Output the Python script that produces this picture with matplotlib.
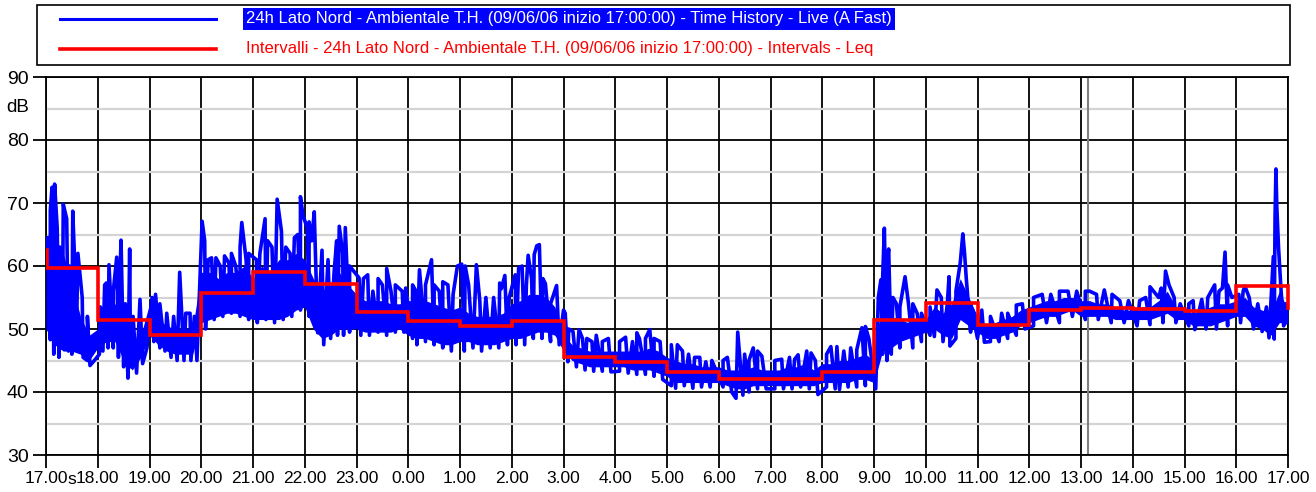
import numpy as np
import matplotlib.pyplot as plt
from matplotlib.patches import Rectangle
from matplotlib.lines import Line2D

plt.rcParams['font.family'] = ['Liberation Sans', 'DejaVu Sans']

# --- data -------------------------------------------------------------
hour_labels = ['17.00', '18.00', '19.00', '20.00', '21.00', '22.00', '23.00',
               '0.00', '1.00', '2.00', '3.00', '4.00', '5.00', '6.00', '7.00',
               '8.00', '9.00', '10.00', '11.00', '12.00', '13.00', '14.00',
               '15.00', '16.00', '17.00']

# hourly Leq (red steps), 17.00 -> 17.00
leq_hourly = [59.7, 51.5, 49.1, 55.7, 59.1, 57.1, 52.7, 51.3, 50.5, 51.2,
              45.5, 44.7, 43.2, 42.1, 42.0, 43.1, 51.4, 54.1, 50.6, 53.0,
              53.3, 53.2, 52.8, 56.9]
leq_first = 62.5   # partial value at start
leq_last = 53.3    # partial value at end

# dense core of the time history, every 10 minutes (lower / upper edge)
band_lo = [50, 47.5, 46.5, 46.5, 46, 45,
           47, 48, 48, 45, 43.5, 45.5,
           49, 47.5, 46.5, 46, 46, 46,
           51, 51.5, 52, 52.5, 52.5, 52,
           51.5, 51.5, 51.5, 51.5, 52, 53,
           53.5, 50, 48.5, 49, 50, 50,
           50, 49.5, 49.5, 49.5, 49.5, 50,
           49, 48.5, 48.5, 48, 47.5, 47.5,
           48, 48, 47.5, 47.5, 47.5, 48,
           48.5, 48.5, 49, 49.5, 49.5, 49,
           46.5, 45, 44.5, 44, 44, 44,
           44, 44, 43.5, 43.5, 43.5, 43,
           42.5, 41.5, 41.5, 41.5, 41.5, 41.5,
           41.5, 41, 40.5, 40.5, 41, 41,
           41, 41, 41, 41, 41, 41,
           41.5, 41.5, 41.5, 41.5, 42, 42,
           41.5, 46.5, 47, 48, 48.5, 49,
           49.5, 50, 49, 48.5, 51.5, 50.5,
           49.5, 48.5, 48.5, 49, 49.5, 50.5,
           51, 51.5, 52, 52, 52.5, 53,
           52, 52, 52, 52, 51.5, 51.5,
           51.5, 51.5, 51.5, 52, 52.5, 51.5,
           51.5, 50.5, 50.5, 50.5, 51, 51.5,
           52, 52, 50.5, 50, 49, 51,
           51]
band_hi = [62, 64, 62, 57, 52, 49,
           50, 54, 54, 51, 48, 49,
           54, 51.5, 50.5, 50, 50, 50,
           59, 59, 58, 59, 59, 60,
           58, 60, 59, 61, 61, 62,
           61, 58, 56, 57, 59, 57,
           55.5, 54.5, 54.5, 54.5, 54, 54,
           54.5, 54.5, 54.5, 54, 53.5, 53,
           53.5, 52.5, 52, 52, 52, 52.5,
           54, 54.5, 55.5, 55.5, 55, 53.5,
           49, 47.5, 47, 46.5, 46.5, 46.5,
           46.5, 46.5, 46.5, 46.5, 47, 46.5,
           45.5, 45, 44.5, 44.5, 44, 44,
           44, 43.5, 43.5, 43.5, 44, 43.5,
           43.5, 43.5, 44, 44, 44.5, 43.5,
           44.5, 44.5, 45, 45, 45.5, 46,
           45, 56, 52, 51.5, 51, 51.5,
           51.5, 53.5, 52.5, 54, 58, 55,
           52, 50.5, 51, 51.5, 52, 53,
           53.5, 54, 54.5, 54.5, 55, 55,
           54.5, 54.5, 54, 54, 53.5, 53,
           53, 53.5, 53.5, 54.5, 56, 53.5,
           53, 52.5, 53, 53.5, 54, 54,
           54.5, 55, 53.5, 53, 52.5, 56,
           53]

# peaks of the time history (clock time, dB)
peak_times = ['17:02', '17:05', '17:07', '17:10', '17:13', '17:16', '17:20', '17:24',
              '17:27', '17:31', '17:34', '17:37', '17:42', '17:48',
              '18:03', '18:08', '18:10', '18:13', '18:18', '18:22', '18:25', '18:27',
              '18:32', '18:37', '18:41', '18:49',
              '19:03', '19:07', '19:12', '19:20', '19:28', '19:35', '19:42', '19:47', '19:52',
              '20:01', '20:04', '20:08', '20:12', '20:17', '20:22', '20:27', '20:32',
              '20:35', '20:40', '20:45', '20:47', '20:52', '20:55',
              '21:04', '21:08', '21:14', '21:17', '21:22', '21:28', '21:33', '21:38',
              '21:43', '21:48', '21:52', '21:55', '21:58',
              '22:03', '22:05', '22:08', '22:11', '22:20', '22:27', '22:34', '22:37',
              '22:40', '22:44', '22:47', '22:52',
              '23:03', '23:08', '23:13', '23:19', '23:25', '23:30', '23:35', '23:40',
              '23:45', '23:53', '23:57',
              '0:05', '0:09', '0:13', '0:20', '0:27', '0:30', '0:36', '0:40', '0:46',
              '0:52', '0:57',
              '1:02', '1:06', '1:10', '1:19', '1:23', '1:30', '1:39', '1:46', '1:48',
              '1:52', '1:57',
              '2:04', '2:08', '2:12', '2:17', '2:19', '2:23', '2:26', '2:29', '2:32',
              '2:36', '2:39', '2:45', '2:52',
              '3:00', '3:02', '3:06', '3:11', '3:18', '3:22', '3:27', '3:33', '3:38',
              '3:45', '3:52',
              '4:05', '4:12', '4:20', '4:25', '4:28', '4:35', '4:40', '4:45', '4:52',
              '5:05', '5:12', '5:18', '5:25', '5:32', '5:38', '5:45', '5:52',
              '6:05', '6:10', '6:22', '6:30', '6:35', '6:40', '6:45', '6:50',
              '7:05', '7:13', '7:22', '7:28', '7:32', '7:42', '7:47', '7:52',
              '8:05', '8:10', '8:17', '8:25', '8:33', '8:40', '8:46', '8:50', '8:54',
              '9:05', '9:08', '9:10', '9:12', '9:15', '9:17', '9:22', '9:26', '9:30',
              '9:36', '9:40', '9:45', '9:50', '9:55',
              '10:05', '10:13', '10:18', '10:25', '10:27', '10:35', '10:40', '10:43',
              '10:45', '10:47', '10:52',
              '11:05', '11:15', '11:28', '11:35', '11:45', '11:52',
              '12:05', '12:15', '12:25', '12:35', '12:45', '12:55',
              '13:05', '13:10', '13:18', '13:27', '13:36', '13:45', '13:55',
              '14:08', '14:15', '14:20', '14:30', '14:33', '14:38', '14:42', '14:48', '14:55',
              '15:05', '15:10', '15:20', '15:27', '15:35', '15:40', '15:44', '15:47',
              '15:50', '15:55',
              '16:03', '16:08', '16:10', '16:15', '16:25', '16:35', '16:43', '16:45',
              '16:46', '16:47', '16:49', '16:52', '16:57']
peak_values = [64.5, 68.8, 72.5, 73, 66, 63, 69.8, 67.5,
               60, 68.7, 58, 62, 55, 52,
               53.5, 57, 57.3, 60.2, 56, 61.4, 55, 64.1,
               54, 62.7, 52, 54.7,
               55, 55.5, 54, 52.5, 52, 59, 52.5, 52.5, 52,
               67.1, 64, 61, 61.3, 61.3, 60, 61.6, 60.5,
               62, 60, 63, 66.9, 61, 62,
               61, 62, 67.5, 64, 63, 70.6, 65.5, 63,
               62, 64.5, 65, 71, 68,
               66, 67, 64, 68.6, 62.5, 61, 59, 64,
               66.3, 62, 66.1, 60,
               58.1, 58, 58.6, 56, 58, 57, 59.6, 56,
               57, 56, 56.5,
               57, 56, 59.4, 57, 61, 57, 56, 57.5, 57,
               55.5, 60,
               60.3, 60, 57, 60.2, 54.4, 55, 55, 57.3, 56.4,
               58.5, 55,
               58.6, 59.7, 60, 57, 61.7, 58, 61.8, 63.2, 63.4,
               58, 57.2, 54, 56.9,
               53, 52.5, 50, 49.6, 49.9, 48.5, 48.5, 48, 49,
               48, 48.5,
               48, 48.7, 48, 49.4, 48.5, 48.5, 49.9, 48.5, 48,
               47.5, 47.5, 46.5, 46, 45.5, 45.5, 44.8, 45,
               45, 45.5, 49.5, 46, 45, 47, 46.5, 45.7,
               45, 45.2, 45.5, 45.2, 45.9, 46.5, 46.2, 45,
               46, 47.2, 47.2, 46.5, 47, 46.7, 50.2, 50.4, 48.5,
               55, 57.8, 58, 66, 60, 62.7, 55, 54, 53.5,
               58.3, 54, 54, 52.5, 52.5,
               53.5, 56.2, 55, 54, 58.3, 56, 60.5, 65.1,
               62, 58, 54,
               53, 52, 52.5, 52.5, 53.8, 54,
               55, 55.5, 55.5, 56, 56, 56,
               56, 56, 55.5, 56.2, 55.5, 54.5, 54.5,
               54.5, 55, 56.7, 55, 56.5, 59.2, 57, 55, 54,
               54, 54.5, 54.7, 55, 57, 56, 56.5, 62.2,
               57, 55,
               55.5, 56, 56.8, 55, 54, 53.5, 61.5, 68,
               75.4, 69.5, 63, 56, 54]

# troughs of the time history (clock time, dB)
dip_times = ['17:00', '17:05', '17:09', '17:15', '17:19', '17:26', '17:30', '17:35', '17:43',
             '17:48', '17:51', '17:56',
             '18:02', '18:06', '18:12', '18:18', '18:24', '18:30', '18:35', '18:38',
             '18:45', '18:52', '18:57',
             '19:05', '19:12', '19:18', '19:25', '19:32', '19:40', '19:48', '19:55',
             '20:05', '20:15', '20:25', '20:35', '20:45', '20:55',
             '21:05', '21:15', '21:25', '21:35', '21:45', '21:55',
             '22:05', '22:15', '22:22', '22:30', '22:38', '22:45', '22:52',
             '23:05', '23:15', '23:25', '23:35', '23:45', '23:55',
             '0:05', '0:10', '0:20', '0:30', '0:40', '0:50',
             '1:05', '1:15', '1:25', '1:35', '1:45', '1:55',
             '2:05', '2:15', '2:25', '2:35', '2:45', '2:55',
             '3:05', '3:15', '3:25', '3:35', '3:45', '3:55',
             '4:05', '4:15', '4:25', '4:35', '4:45', '4:55',
             '5:05', '5:10', '5:20', '5:30', '5:40', '5:50',
             '6:05', '6:15', '6:20', '6:28', '6:35', '6:45', '6:55',
             '7:05', '7:15', '7:25', '7:35', '7:45', '7:55',
             '8:05', '8:15', '8:20', '8:30', '8:40', '8:50',
             '9:02', '9:10', '9:15', '9:20', '9:30', '9:45', '9:55',
             '10:05', '10:10', '10:20', '10:28', '10:35', '10:52',
             '11:00', '11:08', '11:15', '11:25', '11:35', '11:45', '11:55',
             '12:05', '12:20', '12:35', '12:50',
             '13:05', '13:20', '13:35', '13:50',
             '14:05', '14:20', '14:35', '14:50',
             '15:05', '15:12', '15:25', '15:37', '15:50',
             '16:05', '16:20', '16:30', '16:38', '16:44', '16:55', '16:59']
dip_values = [62, 48.3, 46, 45.5, 47, 46.5, 46, 47, 45.5,
              45, 44.2, 45,
              46, 46.5, 47, 47, 45.5, 44, 42.2, 44,
              43, 44.5, 47,
              48, 47, 46.5, 45.5, 45, 45, 45, 45,
              50, 51.5, 52, 52.5, 52, 51.5,
              51, 51.5, 51, 51.5, 52, 53,
              52, 49.4, 47.5, 48.5, 49, 49, 49.5,
              49, 49, 49.5, 49, 49.5, 49.5,
              48.5, 47.5, 48, 47.5, 47, 46.5,
              46.5, 47, 46.5, 47, 47, 47.5,
              47.5, 47.5, 48.5, 48.5, 48, 47.5,
              44.8, 44, 43.5, 43.3, 43.3, 43.2,
              43.3, 43, 42.8, 42.8, 42.5, 42,
              41, 40.6, 41, 40.6, 40.8, 40.8,
              40.8, 40, 39, 39.5, 40, 40.5, 40.5,
              40.5, 40.5, 40.5, 40.8, 40.5, 39.6,
              40.8, 40.5, 40.4, 40.8, 40.8, 41,
              40.5, 46, 45, 46, 47, 47, 48,
              49, 48.8, 48, 47.3, 48.5, 49.5,
              48.5, 47.9, 48, 48, 48.5, 49, 50,
              50.5, 51, 51, 52,
              51.5, 51.5, 51, 51,
              50.5, 50.7, 51, 51,
              50.5, 49.9, 50, 50, 50.5,
              51, 50, 49.6, 48.6, 48.4, 50.5, 51]

marker_time = '13:08'   # grey event marker


def to_hours(t):
    h, m = (int(v) for v in t.split(':'))
    return ((h - 17) % 24) + m / 60.0


# --- figure -----------------------------------------------------------
W, H = 1316, 492
fig = plt.figure(figsize=(W / 100, H / 100), dpi=100)
ax = fig.add_axes([46 / W, 1 - 455 / H, (1288 - 46) / W, (455 - 77) / H])

band_x = np.arange(len(band_lo)) / 6.0
ax.fill_between(band_x, band_lo, band_hi, color='#0000ff', lw=0, zorder=3)

pts = sorted([(to_hours(t), v) for t, v in zip(peak_times, peak_values)] +
             [(to_hours(t), v) for t, v in zip(dip_times, dip_values)])
ax.plot([p[0] for p in pts], [p[1] for p in pts], color='#0000ff', lw=2.6,
        zorder=4)

# red Leq steps, with the short partial value at the start
vals = [leq_first] + leq_hourly
edges = np.concatenate([[0, 0.01], np.arange(1, 25)])
ax.stairs(vals, edges, baseline=None, color='#ff0000', lw=2.6, zorder=5)
ax.plot([24, 24], [leq_hourly[-1], leq_last], color='#ff0000', lw=2.6, zorder=5,
        clip_on=False)

ax.axvline(to_hours(marker_time), color='#808080', lw=1.5, zorder=2)

ax.set_xlim(0, 24)
ax.set_ylim(30, 90)
ax.set_xticks(range(25))
ax.set_xticklabels(hour_labels)
ax.set_yticks(range(30, 91, 10))
ax.set_yticks(range(35, 90, 10), minor=True)
ax.grid(which='major', color='black', lw=1.3, zorder=1)
ax.grid(which='minor', axis='y', color='#d4d4d4', lw=1.6, zorder=0)
ax.set_axisbelow(True)
ax.tick_params(axis='y', which='major', length=9.5, width=1.3, pad=3,
               labelsize=14)
ax.tick_params(axis='y', which='minor', length=0)
ax.tick_params(axis='x', length=9.5, width=1.3, pad=2, labelsize=12.5)
for s in ax.spines.values():
    s.set_linewidth(1.3)

fig.text(76 / W, 1 - 480 / H, 's', ha='right', va='center', fontsize=12.5)
fig.text(18 / W, 1 - 107 / H, 'dB', ha='center', va='center', fontsize=13.5)

# legend box
fig.patches.append(Rectangle((37 / W, 1 - 65 / H), (1290 - 37) / W, 60 / H,
                             transform=fig.transFigure, fill=False,
                             edgecolor='black', lw=1.2))
fig.lines.append(Line2D([60 / W, 216 / W], [1 - 19 / H] * 2, color='#0000ff',
                        lw=2.2, transform=fig.transFigure))
fig.lines.append(Line2D([60 / W, 216 / W], [1 - 49 / H] * 2, color='#ff0000',
                        lw=2.6, transform=fig.transFigure))
fig.text(246 / W, 1 - 19 / H,
         '24h Lato Nord - Ambientale T.H. (09/06/06 inizio 17:00:00) - Time History - Live (A Fast)',
         color='white', va='center', ha='left', fontsize=12,
         bbox=dict(facecolor='#0000ff', edgecolor='none', pad=2.5))
fig.text(246 / W, 1 - 49 / H,
         'Intervalli - 24h Lato Nord - Ambientale T.H. (09/06/06 inizio 17:00:00) - Intervals - Leq',
         color='#ff0000', va='center', ha='left', fontsize=12)

fig.savefig('out.png', dpi=100)
